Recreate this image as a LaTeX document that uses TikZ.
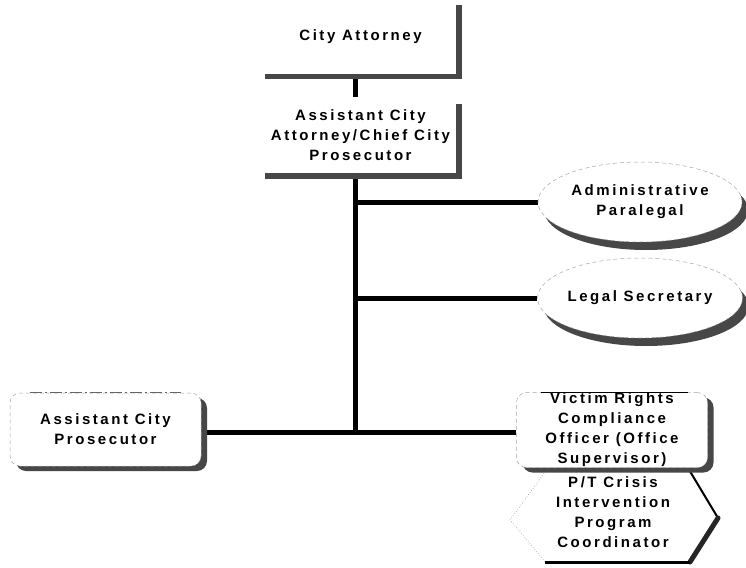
\documentclass[tikz,border=0pt]{standalone}
\usepackage{fontspec}
\setmainfont{Liberation Sans}[LetterSpace=17,BoldFont={Liberation Sans Bold}]
\usetikzlibrary{calc,shapes.geometric,shadows}
\pgfdeclarelayer{paper}
\pgfdeclarelayer{wires}
\pgfsetlayers{paper,wires,main}
\begin{document}
\begin{tikzpicture}[x=1pt,y=-1pt,
  txt/.style={align=center,font=\fontsize{15}{20}\selectfont\bfseries,inner sep=0pt},
  wire/.style={line width=5pt},
  shade/.style={fill=black!72},
  faint/.style={draw=black!35,line width=0.5pt,dash pattern=on 4pt off 3pt},
  plainbox/.style={txt,rectangle,minimum width=191pt},
  roundbox/.style={txt,rectangle,rounded corners=10pt,fill=white,faint,
    minimum width=191pt,minimum height=75pt,
    drop shadow={shadow xshift=6pt,shadow yshift=-5pt,fill=black!72,opacity=1}},
  oval/.style={txt,ellipse,fill=white,faint,minimum width=204pt,minimum height=80pt,
    drop shadow={shadow xshift=6pt,shadow yshift=-8pt,fill=black!72,opacity=1}},
]
\begin{pgfonlayer}{paper}
\fill[white] (0,0) rectangle (746,567);
\end{pgfonlayer}
\useasboundingbox (0,0) rectangle (746,567);

% trunk position and the lower junction
\coordinate (t) at (355,0);
\coordinate (j4) at (355,432);

% square boxes with right/bottom shadow bands
\node[plainbox,minimum height=73pt] (ca) at (360.5,37) {City Attorney};
\fill[shade] ($(ca.north east)+(0,5)$) rectangle ($(ca.south east)+(6,5)$);
\fill[shade] (ca.south west) rectangle ($(ca.south east)+(6,5)$);

\node[plainbox,minimum height=75pt] (aca) at (360.5,135) {Assistant City\\Attorney/Chief City\\Prosecutor};
\fill[shade] ($(aca.north east)+(0,7)$) rectangle ($(aca.south east)+(6,6)$);
\fill[shade] (aca.south west) rectangle ($(aca.south east)+(6,6)$);

% ovals
\node[oval] (ap) at (640,202) {Administrative\\Paralegal};
\node[oval] (ls) at (640,298) {Legal Secretary};

% rounded boxes
\node[roundbox,minimum height=73pt] (acp) at (105.5,429.5) {Assistant City\\Prosecutor};
\draw[black!60,line width=0.6pt,dash pattern=on 12pt off 3pt on 2pt off 3pt]
  ($(acp.north west)+(20,0)$) -- ($(acp.north east)+(-20,0)$);

% pointed box below the officer box
\fill[white] (545,472) -- (690,472) -- (718,518) -- (690,563) -- (545,563) -- (510,520) -- cycle;
\draw[line width=2pt] (688,468) -- (718,518);
\draw[line width=5pt,black!85,line cap=round] (718,518) -- (690,562);
\draw[line width=3pt] (690,562) -- (545,562);
\draw[draw=black!45,line width=0.6pt,dotted] (545,562) -- (510,520) -- (545,472);
\node[txt] (pt) at (613,512) {P/T Crisis\\Intervention\\Program\\Coordinator};

\node[roundbox] (vr) at (612,430) {Victim Rights\\Compliance\\Officer (Office\\Supervisor)};
\draw[line width=0.7pt] ($(vr.north west)+(25,0)$) -- ($(vr.north east)+(-20,0)$);

% connectors
\begin{pgfonlayer}{wires}
\draw[wire] (ca.south -| t) -- (aca.north -| t);
\draw[wire] (aca.south -| t) -- (j4);
\draw[wire] (ap.west -| t) -- (ap.west);
\draw[wire] (ls.west -| t) -- (ls.west);
\draw[wire] (acp.east |- j4) -- (vr.west |- j4);
\end{pgfonlayer}
\end{tikzpicture}
\end{document}
